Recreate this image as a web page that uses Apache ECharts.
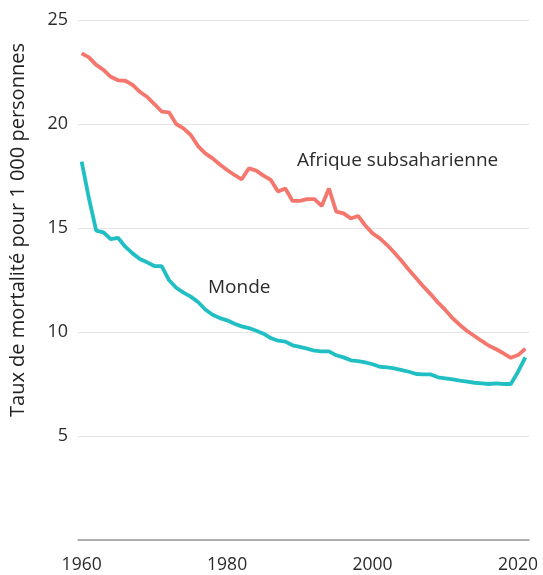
<!DOCTYPE html>
<html>
<head>
<meta charset="utf-8">
<script src="https://cdn.jsdelivr.net/npm/echarts@6/dist/echarts.min.js"></script>
<style>
  html, body { margin: 0; padding: 0; background: #fff; }
  #chart { width: 543px; height: 575px; }
</style>
</head>
<body>
<div id="chart"></div>
<script>
// données (taux de mortalité pour 1 000 personnes)
var years = [];
for (var y = 1960; y <= 2021; y++) years.push(y);

var afrique = [
  23.40, 23.20, 22.84, 22.60, 22.27, 22.10, 22.08, 21.88, 21.55, 21.30,
  20.96, 20.60, 20.56, 20.00, 19.79, 19.47, 18.94, 18.59, 18.35, 18.05,
  17.79, 17.55, 17.34, 17.87, 17.76, 17.52, 17.31, 16.75, 16.90, 16.30,
  16.30, 16.39, 16.39, 16.06, 16.90, 15.79, 15.70, 15.46, 15.58, 15.12,
  14.74, 14.50, 14.18, 13.81, 13.41, 12.98, 12.58, 12.18, 11.81, 11.41,
  11.06, 10.66, 10.34, 10.05, 9.81, 9.57, 9.34, 9.17, 8.97, 8.76,
  8.89, 9.20
];
var monde = [
  18.19, 16.43, 14.87, 14.79, 14.46, 14.53, 14.10, 13.78, 13.51, 13.35,
  13.17, 13.17, 12.50, 12.13, 11.89, 11.70, 11.44, 11.08, 10.83, 10.67,
  10.56, 10.40, 10.27, 10.19, 10.06, 9.92, 9.71, 9.58, 9.54, 9.36,
  9.28, 9.20, 9.10, 9.07, 9.07, 8.88, 8.78, 8.64, 8.60, 8.54,
  8.45, 8.33, 8.30, 8.25, 8.17, 8.09, 7.98, 7.96, 7.96, 7.82,
  7.77, 7.72, 7.66, 7.61, 7.56, 7.53, 7.50, 7.53, 7.50, 7.50,
  8.09, 8.78
];
var xTicks = [1960, 1980, 2000, 2020];
var yTicks = [5, 10, 15, 20, 25];

var rouge = '#F4766C';
var turquoise = '#20BFC4';

var chart = echarts.init(document.getElementById('chart'));

function pairs(vals) {
  return years.map(function (yr, i) { return [yr, vals[i]] });
}

chart.setOption({
  animation: false,
  textStyle: { fontFamily: 'Open Sans' },
  grid: { left: 78, right: 14, top: 20, bottom: 35 },
  xAxis: {
    type: 'value',
    min: 1959.5,
    max: 2021.5,
    axisLine: { show: true, lineStyle: { color: '#999', width: 1.5 } },
    axisTick: { show: false },
    splitLine: { show: false },
    axisLabel: {
      customValues: xTicks,
      color: '#2b2b2b',
      fontSize: 17.5,
      margin: 16,
      formatter: function (v) { return String(v) }
    }
  },
  yAxis: {
    type: 'value',
    min: 0,
    max: 25,
    interval: 5,
    axisLine: { show: false },
    axisTick: { show: false },
    splitLine: { lineStyle: { color: '#e3e3e3', width: 1 } },
    axisLabel: {
      color: '#2b2b2b',
      fontSize: 18,
      margin: 10,
      formatter: function (v) { return yTicks.indexOf(v) >= 0 ? String(v) : '' }
    }
  },
  series: [
    {
      name: 'Afrique subsaharienne',
      type: 'line',
      data: pairs(afrique),
      showSymbol: false,
      lineStyle: { color: rouge, width: 3.8 },
      itemStyle: { color: rouge }
    },
    {
      name: 'Monde',
      type: 'line',
      data: pairs(monde),
      showSymbol: false,
      lineStyle: { color: turquoise, width: 3.8 },
      itemStyle: { color: turquoise }
    }
  ],
  graphic: [
    {
      type: 'text',
      x: 18, y: 230,
      rotation: Math.PI / 2,
      style: {
        text: 'Taux de mortalité pour 1 000 personnes',
        fill: '#222', fontSize: 20, fontFamily: 'Open Sans',
        align: 'center', verticalAlign: 'middle'
      }
    },
    {
      type: 'text',
      x: 297, y: 161,
      style: {
        text: 'Afrique subsaharienne',
        fill: '#2b2b2b', fontSize: 19, fontFamily: 'Open Sans',
        align: 'left', verticalAlign: 'middle'
      }
    },
    {
      type: 'text',
      x: 208, y: 288,
      style: {
        text: 'Monde',
        fill: '#2b2b2b', fontSize: 19, fontFamily: 'Open Sans',
        align: 'left', verticalAlign: 'middle'
      }
    }
  ]
});
</script>
</body>
</html>
